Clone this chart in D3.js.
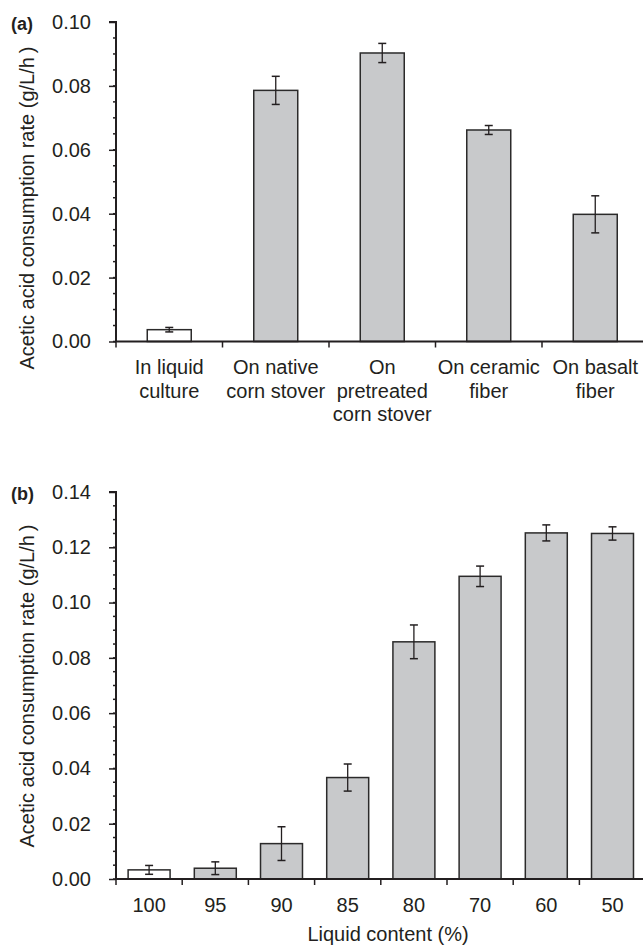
<!DOCTYPE html>
<html>
<head>
<meta charset="utf-8">
<script src="https://cdn.jsdelivr.net/npm/d3@7"></script>
<style>
  html, body { margin: 0; padding: 0; background: #fff; }
  svg { display: block; }
  text { font-family: "Liberation Sans", Arial, sans-serif; fill: #231f20; }
</style>
</head>
<body>
<svg id="chart" width="643" height="945"></svg>
<script>
// ---------- Data ----------
const categoriesA = ["In liquid culture", "On native corn stover", "On pretreated corn stover", "On ceramic fiber", "On basalt fiber"];
const labelLinesA = [["In liquid", "culture"], ["On native", "corn stover"], ["On", "pretreated", "corn stover"], ["On ceramic", "fiber"], ["On basalt", "fiber"]];
const valuesA = [0.0037, 0.0786, 0.0903, 0.0662, 0.0398];
const errorsA = [0.0007, 0.0044, 0.0030, 0.0014, 0.0058];
const liquidOnlyA = [true, false, false, false, false];
const yTicksA = [0.00, 0.02, 0.04, 0.06, 0.08, 0.10];

const categoriesB = ["100", "95", "90", "85", "80", "70", "60", "50"];
const valuesB = [0.0033, 0.0039, 0.0128, 0.0367, 0.0858, 0.1095, 0.1252, 0.1250];
const errorsB = [0.0016, 0.0023, 0.0061, 0.0049, 0.0061, 0.0037, 0.0029, 0.0024];
const liquidOnlyB = [true, false, false, false, false, false, false, false];
const yTicksB = [0.00, 0.02, 0.04, 0.06, 0.08, 0.10, 0.12, 0.14];

const yTitle = "Acetic acid consumption rate (g/L/h\u2009)";
const xTitleB = "Liquid content (%)";

// ---------- Drawing ----------
const svg = d3.select("#chart");
const FONT = 20;

function drawPanel(opt) {
  const g = svg.append("g");
  const n = opt.cats.length;
  const x0 = 116, x1 = x0 + opt.step * n;

  const y = d3.scaleLinear().domain([0, opt.yMax]).range([opt.yBottom, opt.yTop]);
  const band = d3.scaleBand().domain(opt.cats).range([x0, x1]).padding(0);
  const barBand = d3.scaleBand().domain(opt.cats).range([x0, x1])
      .paddingInner(opt.pad).paddingOuter(opt.pad / 2);

  // minor ticks
  const minor = d3.range(0, opt.yMax + 1e-9, 0.005);
  g.selectAll("line.minor").data(minor).join("line")
    .attr("x1", x0 - 3).attr("x2", x0)
    .attr("y1", d => y(d)).attr("y2", d => y(d))
    .attr("stroke", "#231f20").attr("stroke-width", 1.5);

  // Y axis
  const yAxis = d3.axisLeft(y).tickValues(opt.yTicks).tickFormat(d3.format(".2f"))
      .tickSize(7).tickPadding(18);
  const ya = g.append("g").attr("transform", `translate(${x0},0)`).call(yAxis);
  ya.select(".domain").attr("stroke", "#231f20").attr("stroke-width", 2)
    .attr("d", `M-7,${opt.yTop}H0V${opt.yBottom}`);
  ya.selectAll(".tick line").attr("stroke", "#231f20").attr("stroke-width", 1.5);
  ya.selectAll(".tick text").attr("font-size", FONT).attr("fill", "#231f20")
    .attr("font-family", "Liberation Sans, Arial, sans-serif");

  // bars
  g.selectAll("rect.bar").data(opt.vals).join("rect")
    .attr("x", (d, i) => barBand(opt.cats[i]))
    .attr("width", barBand.bandwidth())
    .attr("y", d => y(d))
    .attr("height", d => y(0) - y(d))
    .attr("fill", (d, i) => opt.white[i] ? "#ffffff" : "#c8c9cb")
    .attr("stroke", "#2b2a2a").attr("stroke-width", 1.5);

  // error bars
  const cap = 4;
  const eb = g.selectAll("g.err").data(opt.vals).join("g")
    .attr("transform", (d, i) => `translate(${barBand(opt.cats[i]) + barBand.bandwidth() / 2},0)`);
  eb.append("line").attr("x1", 0).attr("x2", 0)
    .attr("y1", (d, i) => y(d + opt.errs[i])).attr("y2", (d, i) => y(d - opt.errs[i]))
    .attr("stroke", "#231f20").attr("stroke-width", 1.3);
  eb.append("line").attr("x1", -cap).attr("x2", cap)
    .attr("y1", (d, i) => y(d + opt.errs[i])).attr("y2", (d, i) => y(d + opt.errs[i]))
    .attr("stroke", "#231f20").attr("stroke-width", 1.5);
  eb.append("line").attr("x1", -cap).attr("x2", cap)
    .attr("y1", (d, i) => y(d - opt.errs[i])).attr("y2", (d, i) => y(d - opt.errs[i]))
    .attr("stroke", "#231f20").attr("stroke-width", 1.5);

  // X axis line and boundary ticks
  g.append("line").attr("x1", x0 - 1).attr("x2", 643)
    .attr("y1", y(0)).attr("y2", y(0))
    .attr("stroke", "#231f20").attr("stroke-width", 2);
  const bounds = opt.cats.map(c => band(c));
  g.selectAll("line.xt").data(bounds).join("line")
    .attr("x1", d => d).attr("x2", d => d)
    .attr("y1", y(0)).attr("y2", y(0) + 6)
    .attr("stroke", "#231f20").attr("stroke-width", 1.5);

  // X labels
  const xl = g.selectAll("text.xl").data(opt.labels).join("text")
    .attr("text-anchor", "middle")
    .attr("font-size", FONT)
    .attr("x", (d, i) => band(opt.cats[i]) + band.bandwidth() / 2)
    .attr("y", y(0) + 32.5);
  xl.selectAll("tspan").data(d => d).join("tspan")
    .attr("x", function () { return this.parentNode.getAttribute("x"); })
    .attr("dy", (d, i) => i === 0 ? 0 : 23.5)
    .text(d => d);

  // Y title
  g.append("text")
    .attr("transform", `translate(34,${opt.titleCenter}) rotate(-90)`)
    .attr("text-anchor", "middle").attr("font-size", FONT)
    .text(yTitle);

  // panel label
  g.append("text").attr("x", 11).attr("y", opt.yTop + 8)
    .attr("font-size", 18).attr("font-weight", "bold").text(opt.panel);

  if (opt.xTitle) {
    g.append("text").attr("x", 388).attr("y", y(0) + 62)
      .attr("text-anchor", "middle").attr("font-size", FONT).text(opt.xTitle);
  }
}

drawPanel({
  cats: categoriesA, labels: labelLinesA, vals: valuesA, errs: errorsA, white: liquidOnlyA,
  yTicks: yTicksA, yMax: 0.10, yTop: 22, yBottom: 341.5, step: 106.5, pad: 0.587, panel: "(a)",
  titleCenter: 208
});

drawPanel({
  cats: categoriesB, labels: categoriesB.map(c => [c]), vals: valuesB, errs: errorsB, white: liquidOnlyB,
  yTicks: yTicksB, yMax: 0.14, yTop: 492, yBottom: 879, step: 66.2, pad: 0.366, panel: "(b)",
  xTitle: xTitleB, titleCenter: 686
});
</script>
</body>
</html>
